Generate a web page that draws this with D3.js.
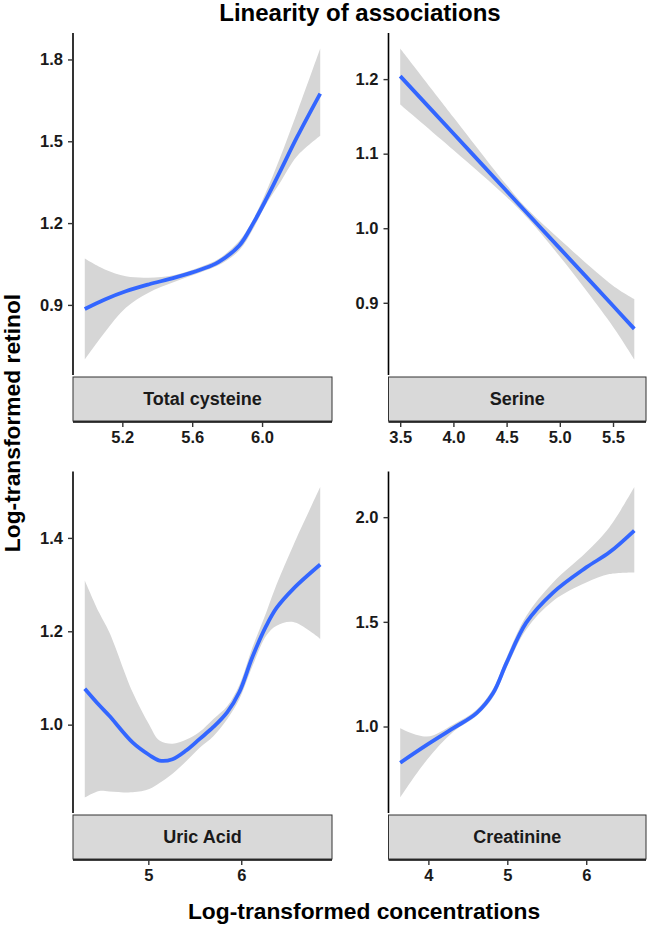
<!DOCTYPE html>
<html>
<head>
<meta charset="utf-8">
<script src="https://cdn.jsdelivr.net/npm/d3@7"></script>
<style>
  html, body { margin: 0; padding: 0; background: #ffffff; }
  svg { display: block; font-family: "Liberation Sans", Arial, sans-serif; }
</style>
</head>
<body>
<svg id="chart" width="650" height="925"></svg>
<script>
// ---------------- DATA ----------------
const panelNames = ["Total cysteine", "Serine", "Uric Acid", "Creatinine"];

// Total cysteine
const cysX   = [4.985, 5.10, 5.22, 5.35, 5.50, 5.65, 5.75, 5.87, 5.95, 6.02, 6.10, 6.20, 6.333];
const cysFit = [0.885, 0.920, 0.950, 0.975, 1.000, 1.030, 1.057, 1.118, 1.200, 1.283, 1.385, 1.515, 1.675];
const cysLo  = [0.700, 0.800, 0.890, 0.945, 0.985, 1.020, 1.045, 1.100, 1.180, 1.265, 1.345, 1.445, 1.520];
const cysHi  = [1.070, 1.030, 1.005, 1.000, 1.010, 1.040, 1.068, 1.135, 1.215, 1.310, 1.435, 1.605, 1.840];
const cysXTicks = [5.2, 5.6, 6.0];
const cysYTicks = [0.9, 1.2, 1.5, 1.8];

// Serine
const serX   = [3.50, 4.00, 4.50, 4.70, 5.00, 5.50, 5.70];
const serFit = [1.204, 1.127, 1.050, 1.019, 0.973, 0.896, 0.865];
const serLo  = [1.166, 1.105, 1.042, 1.013, 0.962, 0.868, 0.824];
const serHi  = [1.241, 1.149, 1.058, 1.025, 0.985, 0.923, 0.905];
const serXTicks = [3.5, 4.0, 4.5, 5.0, 5.5];
const serYTicks = [0.9, 1.0, 1.1, 1.2];

// Uric Acid
const uaX   = [4.316, 4.47, 4.58, 4.83, 5.01, 5.12, 5.26, 5.41, 5.55, 5.70, 5.85, 5.98, 6.12, 6.27, 6.38, 6.56, 6.85];
const uaFit = [1.077, 1.042, 1.019, 0.962, 0.935, 0.923, 0.926, 0.945, 0.969, 0.995, 1.027, 1.070, 1.145, 1.212, 1.250, 1.291, 1.343];
const uaLo  = [0.844, 0.858, 0.857, 0.855, 0.862, 0.875, 0.895, 0.922, 0.950, 0.975, 1.012, 1.055, 1.125, 1.191, 1.212, 1.220, 1.184];
const uaHi  = [1.309, 1.240, 1.198, 1.070, 1.000, 0.966, 0.959, 0.968, 0.984, 1.012, 1.040, 1.085, 1.165, 1.241, 1.300, 1.384, 1.509];
const uaXTicks = [5, 6];
const uaYTicks = [1.0, 1.2, 1.4];

// Creatinine
const crX   = [3.643, 3.98, 4.316, 4.61, 4.82, 4.99, 5.24, 5.58, 6.00, 6.294, 6.609];
const crFit = [0.827, 0.912, 0.992, 1.064, 1.160, 1.304, 1.496, 1.640, 1.760, 1.832, 1.936];
const crLo  = [0.661, 0.840, 0.975, 1.050, 1.140, 1.280, 1.464, 1.600, 1.688, 1.728, 1.736];
const crHi  = [0.992, 0.952, 1.010, 1.080, 1.180, 1.330, 1.528, 1.688, 1.832, 1.952, 2.144];
const crXTicks = [4, 5, 6];
const crYTicks = [1.0, 1.5, 2.0];

const titleText = "Linearity of associations";
const xTitle = "Log-transformed concentrations";
const yTitle = "Log-transformed retinol";

// ---------------- LAYOUT ----------------
const svg = d3.select("#chart");
const FONT = "Liberation Sans, Arial, sans-serif";

const panels = [
  { name: panelNames[0], x: cysX, fit: cysFit, lo: cysLo, hi: cysHi, xt: cysXTicks, yt: cysYTicks, fmt: d3.format(".1f"), yfmt: d3.format(".1f"),
    left: 73, right: 332, top: 33, bottom: 375, stripTop: 377, stripBot: 421 },
  { name: panelNames[1], x: serX, fit: serFit, lo: serLo, hi: serHi, xt: serXTicks, yt: serYTicks, fmt: d3.format(".1f"), yfmt: d3.format(".1f"),
    left: 388.5, right: 646, top: 33, bottom: 375, stripTop: 377, stripBot: 421 },
  { name: panelNames[2], x: uaX, fit: uaFit, lo: uaLo, hi: uaHi, xt: uaXTicks, yt: uaYTicks, fmt: d3.format("d"), yfmt: d3.format(".1f"),
    left: 73, right: 332, top: 471.5, bottom: 813, stripTop: 815, stripBot: 859 },
  { name: panelNames[3], x: crX, fit: crFit, lo: crLo, hi: crHi, xt: crXTicks, yt: crYTicks, fmt: d3.format("d"), yfmt: d3.format(".1f"),
    left: 388.5, right: 646, top: 471.5, bottom: 813, stripTop: 815, stripBot: 859 }
];

function expand(ext, f) {
  const d = (ext[1] - ext[0]) * f;
  return [ext[0] - d, ext[1] + d];
}

const smooth = d3.curveCatmullRom.alpha(0.5);

panels.forEach(p => {
  const xs = d3.scaleLinear().domain(expand(d3.extent(p.x), 0.05)).range([p.left, p.right]);
  const ys = d3.scaleLinear().domain(expand([d3.min(p.lo), d3.max(p.hi)], 0.05)).range([p.bottom, p.top]);
  const rows = p.x.map((v, i) => ({ x: v, y: p.fit[i], lo: p.lo[i], hi: p.hi[i] }));

  const g = svg.append("g");

  // confidence band
  g.append("path")
    .datum(rows)
    .attr("fill", "#d6d6d6")
    .attr("d", d3.area().x(d => xs(d.x)).y0(d => ys(d.lo)).y1(d => ys(d.hi)).curve(smooth));

  // fitted line
  g.append("path")
    .datum(rows)
    .attr("fill", "none")
    .attr("stroke", "#3366FF")
    .attr("stroke-width", 3.8)
    .attr("d", d3.line().x(d => xs(d.x)).y(d => ys(d.y)).curve(smooth));

  // y axis
  const yAxis = d3.axisLeft(ys).tickValues(p.yt).tickFormat(p.yfmt).tickSize(5).tickPadding(5);
  const ya = g.append("g").attr("transform", `translate(${p.left},0)`).call(yAxis);
  ya.select(".domain").attr("d", `M0,${p.top}V${p.bottom}`).attr("stroke", "#000").attr("stroke-width", 1.6);
  ya.selectAll(".tick line").attr("stroke", "#333").attr("stroke-width", 1.4);
  ya.selectAll(".tick text").attr("fill", "#1a1a1a").style("font-family", FONT).style("font-weight", "bold").style("font-size", "16.5px");

  // strip
  g.append("rect")
    .attr("x", p.left).attr("y", p.stripTop)
    .attr("width", p.right - p.left).attr("height", p.stripBot - p.stripTop)
    .attr("fill", "#d9d9d9").attr("stroke", "#333").attr("stroke-width", 1);
  g.append("text")
    .attr("x", (p.left + p.right) / 2).attr("y", (p.stripTop + p.stripBot) / 2)
    .attr("dy", "0.36em")
    .attr("text-anchor", "middle")
    .attr("fill", "#1a1a1a")
    .style("font-family", FONT).style("font-weight", "bold").style("font-size", "18px")
    .text(p.name);

  // x axis (under strip)
  const xAxis = d3.axisBottom(xs).tickValues(p.xt).tickFormat(p.fmt).tickSize(5).tickPadding(4);
  const xa = g.append("g").attr("transform", `translate(0,${p.stripBot + 1})`).call(xAxis);
  xa.select(".domain").attr("d", `M${p.left},0H${p.right}`).attr("stroke", "#000").attr("stroke-width", 1.6);
  xa.selectAll(".tick line").attr("stroke", "#333").attr("stroke-width", 1.4);
  xa.selectAll(".tick text").attr("fill", "#1a1a1a").style("font-family", FONT).style("font-weight", "bold").style("font-size", "16.5px");
});

// titles
svg.append("text")
  .attr("x", 360).attr("y", 21)
  .attr("text-anchor", "middle")
  .style("font-family", FONT).style("font-weight", "bold").style("font-size", "24px")
  .attr("fill", "#000")
  .text(titleText);

svg.append("text")
  .attr("x", 364).attr("y", 919)
  .attr("text-anchor", "middle")
  .style("font-family", FONT).style("font-weight", "bold").style("font-size", "22.8px")
  .attr("fill", "#000")
  .text(xTitle);

svg.append("text")
  .attr("transform", "translate(20,423) rotate(-90)")
  .attr("text-anchor", "middle")
  .style("font-family", FONT).style("font-weight", "bold").style("font-size", "22.8px")
  .attr("fill", "#000")
  .text(yTitle);
</script>
</body>
</html>
